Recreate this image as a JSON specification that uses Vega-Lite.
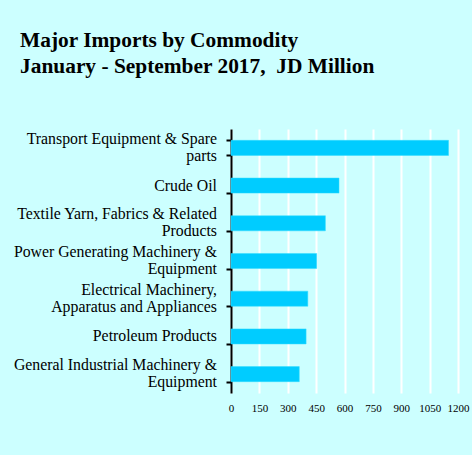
{
  "$schema": "https://vega.github.io/schema/vega-lite/v6.json",
  "width": 227,
  "height": 264,
  "autosize": {"type": "none"},
  "padding": {"left": 231, "top": 129, "right": 14, "bottom": 62},
  "background": "#CCFFFF",
  "title": {
    "text": ["\u00a0Major Imports by Commodity", "January - September 2017,\u00a0 JD Million"],
    "font": "Liberation Serif",
    "fontSize": 21.4,
    "fontWeight": "bold",
    "color": "#000000",
    "anchor": "start",
    "frame": "group",
    "baseline": "alphabetic",
    "lineHeight": 25.5,
    "dx": -211,
    "offset": 35
  },
  "data": {
    "values": [
      {"commodity": "Transport Equipment & Spare|parts", "value": 1150},
      {"commodity": "Crude Oil", "value": 571},
      {"commodity": "Textile Yarn, Fabrics & Related|Products", "value": 499},
      {"commodity": "Power Generating Machinery &|Equipment", "value": 453},
      {"commodity": "Electrical Machinery,|Apparatus and Appliances", "value": 406},
      {"commodity": "Petroleum Products", "value": 397},
      {"commodity": "General Industrial Machinery &|Equipment", "value": 361}
    ]
  },
  "encoding": {
    "y": {
      "field": "commodity",
      "type": "nominal",
      "sort": null,
      "scale": {"paddingInner": 0.6, "paddingOuter": 0.3},
      "axis": {
        "title": null,
        "labels": false,
        "tickBand": "extent",
        "domainColor": "#000000",
        "domainWidth": 2,
        "tickColor": "#000000",
        "tickWidth": 2,
        "tickSize": 5
      }
    }
  },
  "layer": [
    {
      "mark": {"type": "bar", "color": "#00CCFF", "stroke": "#33DDFF", "strokeWidth": 0.5},
      "encoding": {
        "x": {
          "field": "value",
          "type": "quantitative",
          "scale": {"domain": [0, 1200], "nice": false},
          "axis": {"title": null, "values": [0, 150, 300, 450, 600, 750, 900, 1050, 1200], "format": "d"}
        }
      }
    },
    {
      "transform": [{"filter": "indexof(datum.commodity, '|') < 0"}],
      "mark": {"type": "text", "align": "right", "baseline": "middle", "dx": -14, "font": "Liberation Serif", "fontSize": 15.8, "color": "#000000"},
      "encoding": {
        "x": {
          "datum": 0,
          "type": "quantitative",
          "scale": {"domain": [0, 1200], "nice": false},
          "axis": {"title": null, "values": [0, 150, 300, 450, 600, 750, 900, 1050, 1200], "format": "d"}
        },
        "text": {"field": "commodity"}
      }
    },
    {
      "transform": [{"filter": "indexof(datum.commodity, '|') >= 0"}],
      "mark": {"type": "text", "align": "right", "baseline": "line-bottom", "lineBreak": "|", "lineHeight": 17, "dx": -14, "font": "Liberation Serif", "fontSize": 15.8, "color": "#000000"},
      "encoding": {
        "x": {
          "datum": 0,
          "type": "quantitative",
          "scale": {"domain": [0, 1200], "nice": false},
          "axis": {"title": null, "values": [0, 150, 300, 450, 600, 750, 900, 1050, 1200], "format": "d"}
        },
        "text": {"field": "commodity"}
      }
    }
  ],
  "config": {
    "view": {"stroke": null},
    "axisX": {
      "domain": false,
      "ticks": false,
      "grid": true,
      "gridColor": "#FFFFFF",
      "gridWidth": 2,
      "gridOpacity": 1,
      "labelPadding": 9,
      "labelFont": "Liberation Serif",
      "labelFontSize": 11,
      "labelColor": "#000000",
      "labelFlush": false,
      "labelOverlap": false,
      "labelBound": false
    }
  }
}
